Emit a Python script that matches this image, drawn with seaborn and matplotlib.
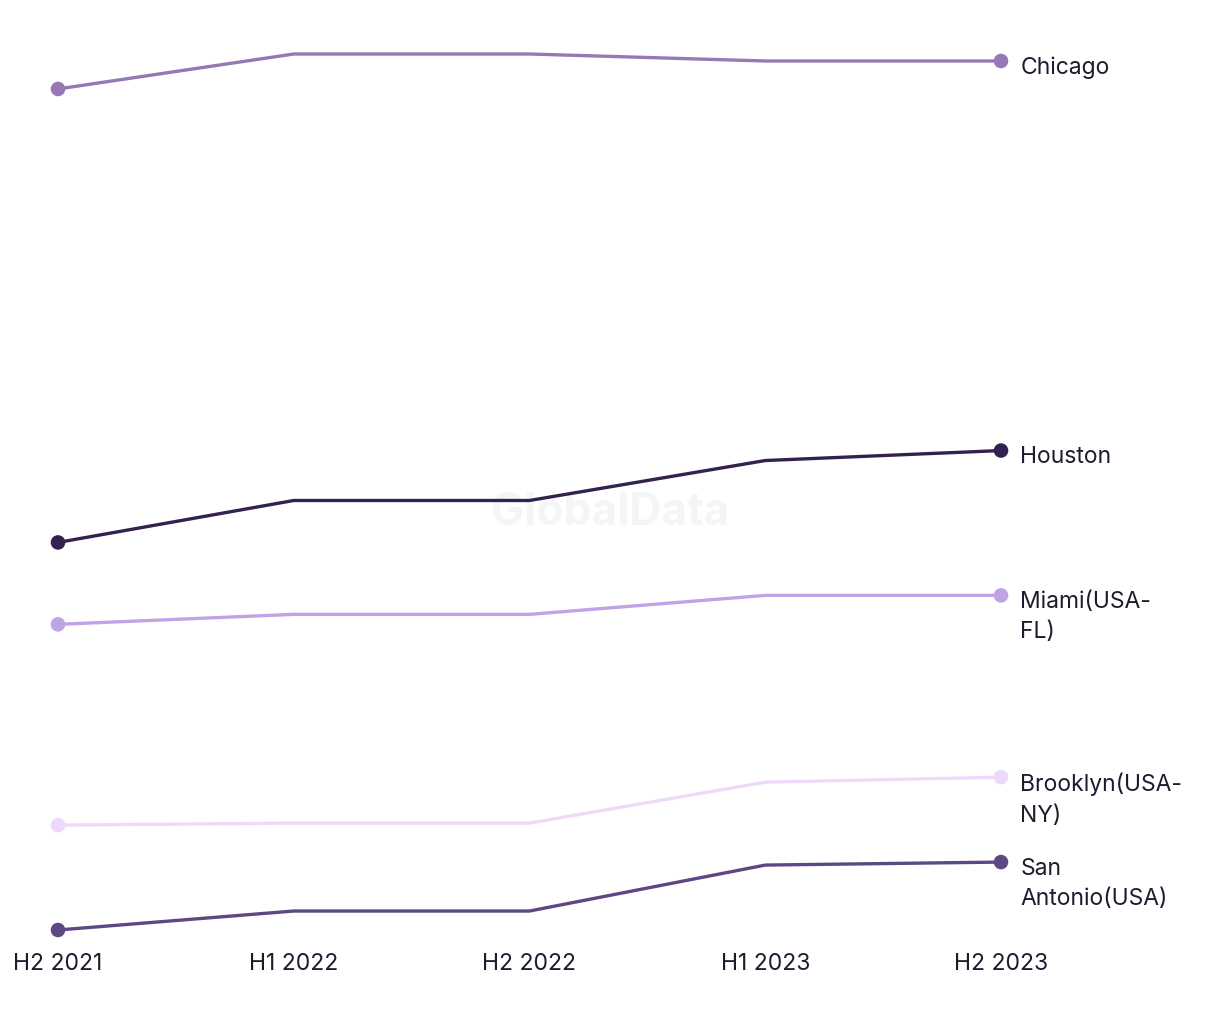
import matplotlib
matplotlib.use('Agg')
import matplotlib.pyplot as plt
import numpy as np
import pandas as pd
import seaborn as sns

sns.set_style('white')
plt.rcParams['font.family'] = ['Inter', 'DejaVu Sans']

periods = ['H2 2021', 'H1 2022', 'H2 2022', 'H1 2023', 'H2 2023']
cities = ['Chicago', 'Houston', 'Miami(USA-\nFL)', 'Brooklyn(USA-\nNY)', 'San\nAntonio(USA)']
chicago = [85.2, 88.7, 88.7, 88.0, 88.0]
houston = [39.8, 44.0, 44.0, 48.0, 49.0]
miami = [31.6, 32.6, 32.6, 34.5, 34.5]
brooklyn = [11.5, 11.7, 11.7, 15.8, 16.3]
san_antonio = [1.0, 2.9, 2.9, 7.5, 7.8]
colors = ['#9479B5', '#33214F', '#BFA3E4', '#EFD9FA', '#5E4883']

series = [chicago, houston, miami, brooklyn, san_antonio]
rows = []
for city, vals in zip(cities, series):
    for i, v in enumerate(vals):
        rows.append({'city': city, 'pos': i, 'period': periods[i], 'value': v})
df = pd.DataFrame(rows)

fig = plt.figure(figsize=(12.2, 10.2), dpi=100)
ax = fig.add_axes([58 / 1220, 89 / 1020, 943 / 1220, 876 / 1020])

pal = dict(zip(cities, colors))
sns.lineplot(data=df, x='pos', y='value', hue='city', palette=pal, linewidth=2.4,
             legend=False, ax=ax)
ends = df[df['pos'].isin([0, len(periods) - 1])]
sns.scatterplot(data=ends, x='pos', y='value', hue='city', palette=pal, s=110,
                edgecolor='none', legend=False, ax=ax, zorder=5, clip_on=False)
for line in ax.lines:
    line.set_clip_on(False)

for city, vals, c in zip(cities, series, colors):
    ax.annotate(city, xy=(len(periods) - 1, vals[-1]), xytext=(14, 4),
                textcoords='offset points', va='top', ha='left', fontsize=16.5,
                color='#1C1C2E', linespacing=1.5, annotation_clip=False)

ax.text(0.5, 0.497, 'GlobalData', transform=fig.transFigure, ha='center', va='center',
        fontsize=32, fontweight='bold', color='#F5F5F5', zorder=0)

ax.set_xlim(0, len(periods) - 1)
ax.set_ylim(min(san_antonio), max(chicago))
ax.set_xticks(range(len(periods)))
ax.set_xticklabels(periods)
ax.set_yticks([])
ax.tick_params(axis='x', length=0, pad=16, labelsize=16.5, labelcolor='#1C1C2E')
ax.set_xlabel('')
ax.set_ylabel('')
sns.despine(ax=ax, left=True, bottom=True)

fig.savefig('out.png', dpi=100)
